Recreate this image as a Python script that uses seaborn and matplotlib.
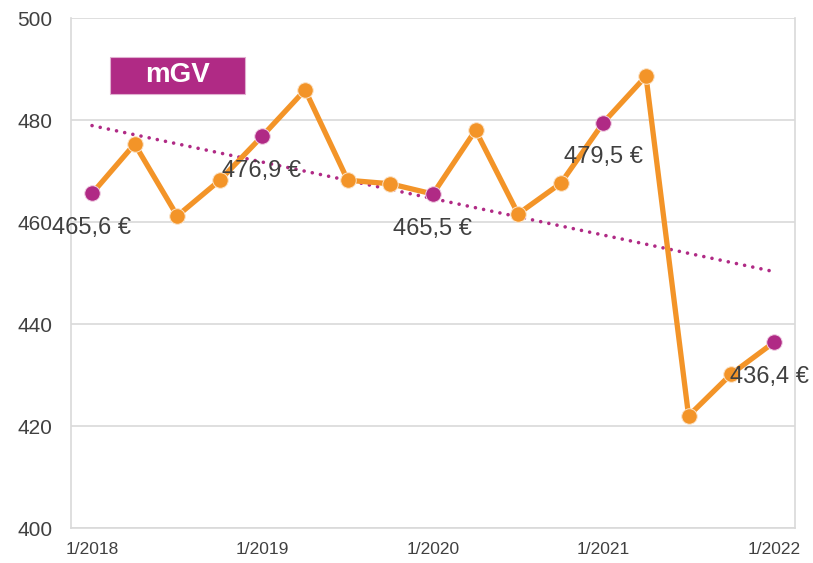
import numpy as np
import pandas as pd
import matplotlib
matplotlib.use("Agg")
import matplotlib.pyplot as plt
from matplotlib.patches import Rectangle
import seaborn as sns

# data: quarterly mGV values
quarters = ["1/2018", "4/2018", "7/2018", "10/2018",
            "1/2019", "4/2019", "7/2019", "10/2019",
            "1/2020", "4/2020", "7/2020", "10/2020",
            "1/2021", "4/2021", "7/2021", "10/2021",
            "1/2022"]
values = [465.6, 475.3, 461.2, 468.2,
          476.9, 485.9, 468.2, 467.5,
          465.5, 478.0, 461.6, 467.6,
          479.5, 488.6, 422.0, 430.2,
          436.4]
year_labels = ["1/2018", "1/2019", "1/2020", "1/2021", "1/2022"]
label_texts = ["465,6 €", "476,9 €", "465,5 €", "479,5 €", "436,4 €"]

ORANGE = "#F39428"
PURPLE = "#B02A85"
GRID = "#D9D9D9"
TEXT = "#404040"

df = pd.DataFrame({"quarter": quarters, "value": values})
df["idx"] = np.arange(len(df))
df["is_year"] = df["quarter"].str.startswith("1/")

sns.set_style("white")
plt.rcParams["font.family"] = ["Liberation Sans", "DejaVu Sans"]

fig, ax = plt.subplots(figsize=(8.13, 5.63), dpi=100)
fig.subplots_adjust(left=0.087, right=0.978, top=0.968, bottom=0.062)

# trend line
sns.regplot(x="idx", y="value", data=df, scatter=False, ci=None, ax=ax,
            line_kws=dict(color=PURPLE, lw=2.6, ls=(0, (0.01, 2.3)),
                          dash_capstyle="round", zorder=2))

# main line
sns.lineplot(x="idx", y="value", data=df, ax=ax, color=ORANGE, lw=3.8, zorder=3)

# markers
sns.scatterplot(x="idx", y="value", data=df[~df["is_year"]], ax=ax, color=ORANGE,
                s=125, edgecolor="#FBE3C8", linewidth=0.7, zorder=4)
sns.scatterplot(x="idx", y="value", data=df[df["is_year"]], ax=ax, color=PURPLE,
                s=125, edgecolor="#F0D0E4", linewidth=0.7, zorder=5)

# value labels for the yearly points
year_df = df[df["is_year"]].reset_index(drop=True)
offsets = [(0.0, -6.8, "center"), (-0.95, -6.8, "left"), (0.0, -6.8, "center"),
           (0.0, -6.8, "center"), (-1.03, -6.7, "left")]
for i, row in year_df.iterrows():
    dx, dy, ha = offsets[i]
    ax.text(row["idx"] + dx, row["value"] + dy, label_texts[i], ha=ha, va="center",
            fontsize=17, color=TEXT, zorder=6)

# mGV box
ax.add_patch(Rectangle((0.42, 485.1), 3.16, 7.25, facecolor=PURPLE,
                       edgecolor="#E0B0D0", lw=0.8, zorder=5))
ax.text(2.0, 488.75, "mGV", ha="center", va="center", fontsize=20, fontweight="bold",
        color="white", zorder=6)

ax.set_xlim(-0.5, 16.5)
ax.set_ylim(400, 500)
ax.set_yticks([400, 420, 440, 460, 480, 500])
ax.set_xticks(df["idx"])
ax.set_xticklabels([q if q in year_labels else "" for q in quarters])
ax.tick_params(axis="x", length=5, color=GRID, width=1.2, labelsize=12.5,
               labelcolor=TEXT, pad=5)
ax.tick_params(axis="y", length=0, labelsize=15, labelcolor=TEXT, pad=13)
ax.yaxis.grid(True, color=GRID, lw=1.2)
ax.set_axisbelow(True)
ax.set_xlabel("")
ax.set_ylabel("")
for side in ["left", "bottom", "right"]:
    ax.spines[side].set_color(GRID)
    ax.spines[side].set_linewidth(1.2)
ax.spines["top"].set_visible(False)

plt.savefig("out.png", dpi=100)
